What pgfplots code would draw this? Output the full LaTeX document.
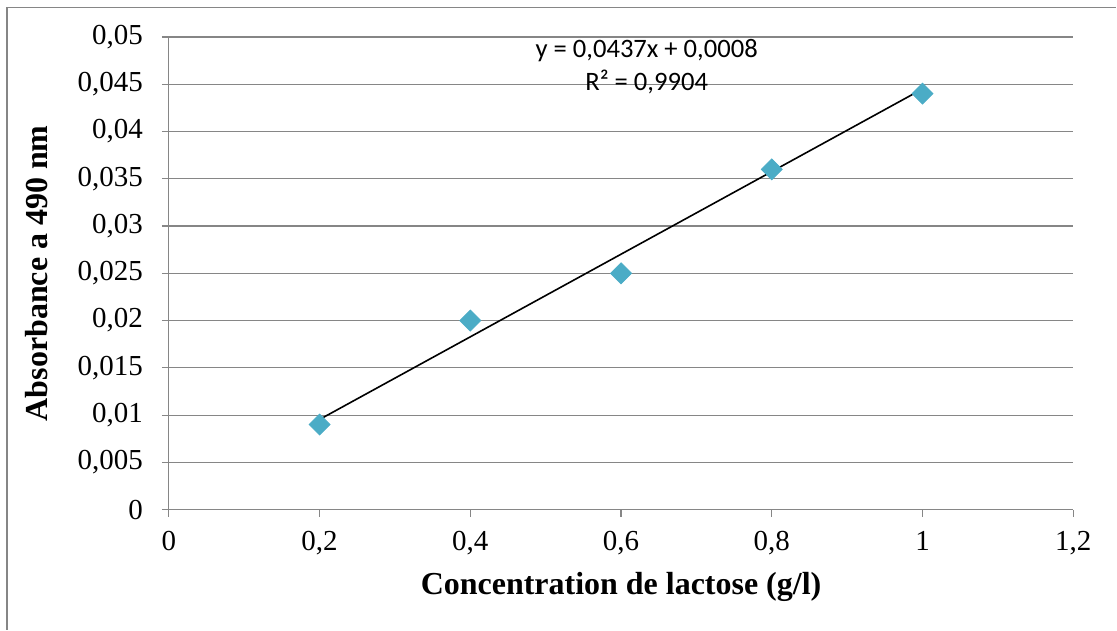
\documentclass[border=0pt]{standalone}
\usepackage{pgfplots}
\pgfplotsset{compat=1.18}
\usepackage{fontspec}
\setmainfont{Liberation Serif}
\newfontfamily\carlito{Carlito}
\definecolor{excelblue}{HTML}{4BACC6}
\definecolor{gridgray}{HTML}{868686}

\begin{document}
\begin{tikzpicture}
\begin{axis}[
  scale only axis,
  width=452.5pt, height=236.5pt,
  xmin=0, xmax=1.2, ymin=0, ymax=0.05,
  scaled y ticks=false, scaled x ticks=false,
  axis lines=left,
  axis line style={-, gridgray, line width=0.6pt},
  xtick={0,0.2,0.4,0.6,0.8,1,1.2},
  xticklabels={0,{0,2},{0,4},{0,6},{0,8},1,{1,2}},
  ytick={0,0.005,0.01,0.015,0.02,0.025,0.03,0.035,0.04,0.045,0.05},
  yticklabels={0,{0,005},{0,01},{0,015},{0,02},{0,025},{0,03},{0,035},{0,04},{0,045},{0,05}},
  ymajorgrids,
  grid style={gridgray, line width=0.6pt},
  tick align=outside,
  major tick length=3.5pt,
  tick style={gridgray, line width=0.6pt},
  ticklabel style={font=\fontsize{14.5}{16}\selectfont, text=black},
  xticklabel style={yshift=-4pt},
  yticklabel style={xshift=-6pt},
  xlabel={\textbf{Concentration de lactose (g/l)}},
  ylabel={\textbf{Absorbance a 490 nm}},
  label style={font=\fontsize{16}{18}\selectfont},
  xlabel style={at={(rel axis cs:0.5,-0.163)}, anchor=center},
  ylabel style={at={(rel axis cs:-0.146,0.5)}, anchor=center},
  clip=false,
]
\addplot[only marks, mark=square*, mark size=3.7pt,
  mark options={rotate=45, fill=excelblue, draw=excelblue}]
  coordinates {(0.2,0.009)(0.4,0.020)(0.6,0.025)(0.8,0.036)(1.0,0.044)};
\addplot[black, line width=0.8pt] coordinates {(0.2,0.00954)(1.0,0.0445)};
\node[font=\carlito\fontsize{13.3}{16.5}\selectfont, align=center]
  at (axis cs:0.634,0.04683) {y = 0,0437x + 0,0008\\R² = 0,9904};
\draw[gridgray, line width=0.8pt] (rel axis cs:-0.179,-0.2537) -- (rel axis cs:-0.179,1.0624) -- (rel axis cs:1.0475,1.0624);
\path (rel axis cs:-0.1867,-0.2537) rectangle (rel axis cs:1.0475,1.0782);
\end{axis}
\end{tikzpicture}
\end{document}
